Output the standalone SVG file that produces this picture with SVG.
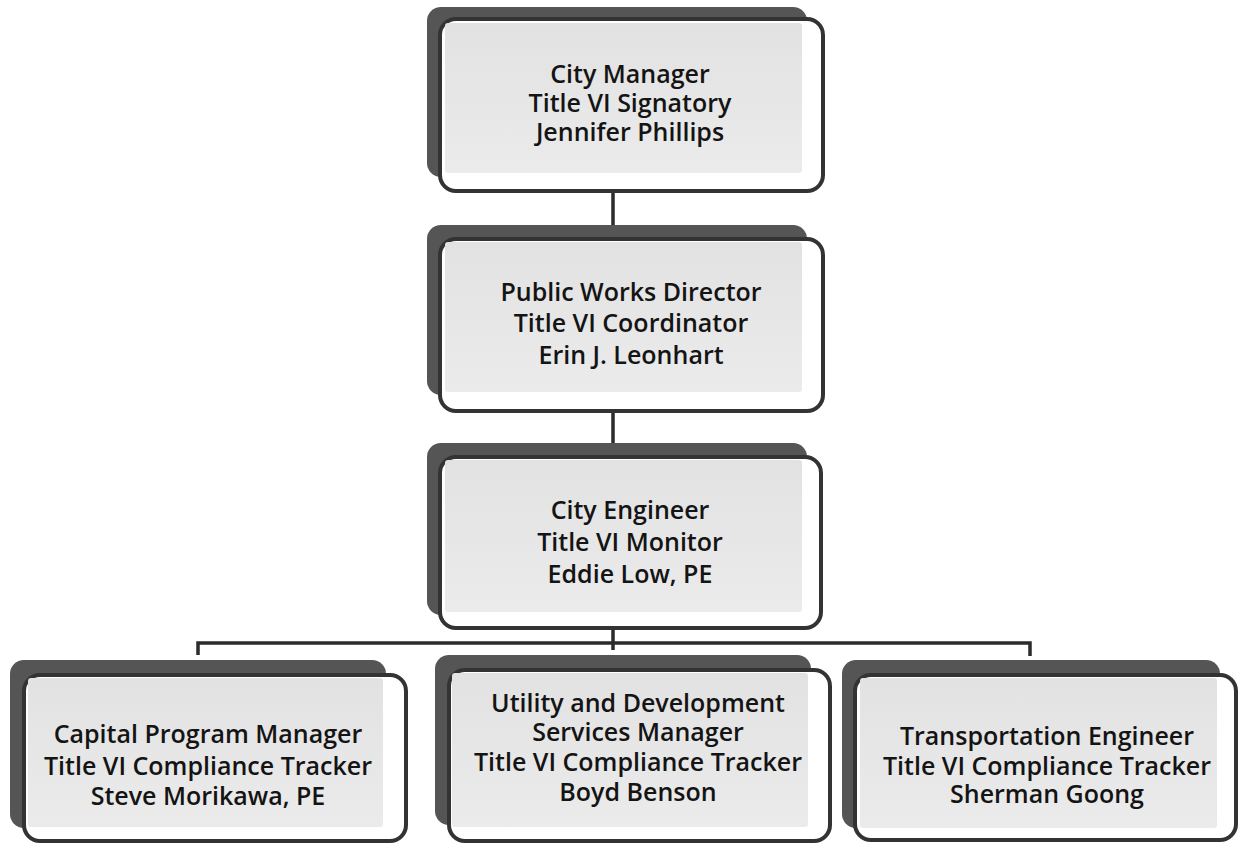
<svg xmlns="http://www.w3.org/2000/svg" width="1241" height="846" viewBox="0 0 1241 846">
<defs>
<linearGradient id="g" x1="0" y1="0" x2="0" y2="1">
<stop offset="0" stop-color="#e2e2e2"/>
<stop offset="1" stop-color="#ebebeb"/>
</linearGradient>
</defs>
<style>
.shadow{fill:#555555;}
.front{fill:#ffffff;stroke:#333333;stroke-width:4;}
.inner{fill:url(#g);}
text{font-family:"Open Sans","Liberation Sans",sans-serif;font-size:25px;font-weight:600;fill:#141414;text-anchor:middle;}
.conn{fill:none;stroke:#2b2b2b;stroke-width:3.5;}
</style>
<rect width="1241" height="846" fill="#ffffff"/>
<g id="connectors">
<path class="conn" d="M613 193 V237"/>
<path class="conn" d="M613 413 V455"/>
<path class="conn" d="M613 630 V650"/>
<path class="conn" d="M198 655 V643 H1030 V656"/>
</g>
<g id="n1">
<rect class="shadow" x="427" y="7" width="380" height="170" rx="14"/>
<rect class="front" x="440" y="19" width="383" height="172" rx="16"/>
<rect class="inner" x="445" y="23" width="357" height="150" rx="3"/>
<text x="630" y="83">City Manager</text>
<text x="630" y="112">Title VI Signatory</text>
<text x="630" y="141">Jennifer Phillips</text>
</g>
<g id="n2">
<rect class="shadow" x="427" y="225" width="380" height="170" rx="14"/>
<rect class="front" x="440" y="239" width="383" height="172" rx="16"/>
<rect class="inner" x="445" y="242" width="357" height="150" rx="3"/>
<text x="631" y="301">Public Works Director</text>
<text x="631" y="332">Title VI Coordinator</text>
<text x="631" y="364">Erin J. Leonhart</text>
</g>
<g id="n3">
<rect class="shadow" x="427" y="443" width="380" height="172" rx="14"/>
<rect class="front" x="440" y="457" width="381" height="171" rx="16"/>
<rect class="inner" x="445" y="460" width="357" height="152" rx="3"/>
<text x="630" y="519">City Engineer</text>
<text x="630" y="551">Title VI Monitor</text>
<text x="630" y="583">Eddie Low, PE</text>
</g>
<g id="n4">
<rect class="shadow" x="10" y="660" width="376" height="168" rx="14"/>
<rect class="front" x="24" y="675" width="382" height="166" rx="16"/>
<rect class="inner" x="28" y="678" width="355" height="149" rx="3"/>
<text x="208" y="743">Capital Program Manager</text>
<text x="208" y="775">Title VI Compliance Tracker</text>
<text x="208" y="805">Steve Morikawa, PE</text>
</g>
<g id="n5">
<rect class="shadow" x="435" y="655" width="376" height="170" rx="14"/>
<rect class="front" x="449" y="670" width="381" height="171" rx="16"/>
<rect class="inner" x="452" y="673" width="356" height="154" rx="3"/>
<text x="638" y="712">Utility and Development</text>
<text x="638" y="741">Services Manager</text>
<text x="638" y="771">Title VI Compliance Tracker</text>
<text x="638" y="801">Boyd Benson</text>
</g>
<g id="n6">
<rect class="shadow" x="842" y="660" width="378" height="168" rx="14"/>
<rect class="front" x="855" y="675" width="381" height="165" rx="16"/>
<rect class="inner" x="860" y="678" width="357" height="150" rx="3"/>
<text x="1047" y="745">Transportation Engineer</text>
<text x="1047" y="775">Title VI Compliance Tracker</text>
<text x="1047" y="803">Sherman Goong</text>
</g>
</svg>
